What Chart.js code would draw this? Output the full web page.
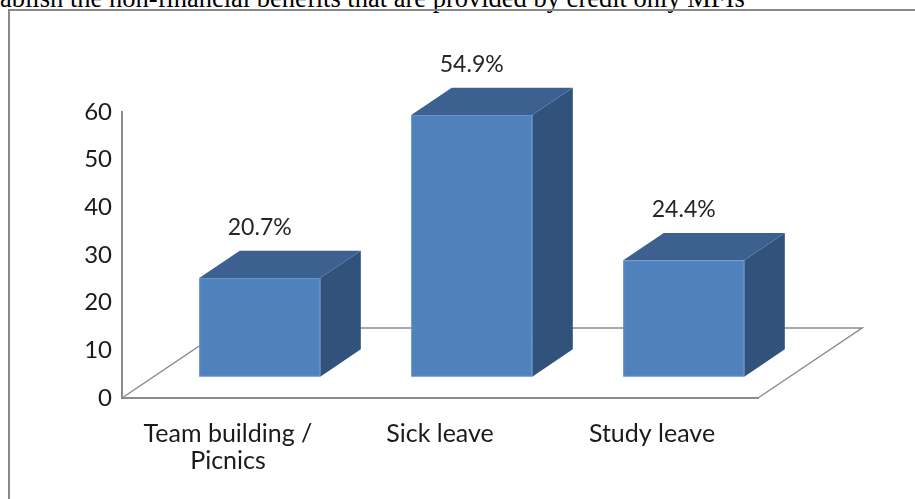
<!DOCTYPE html>
<html><head><meta charset="utf-8">
<script src="https://cdn.jsdelivr.net/npm/chart.js@4/dist/chart.umd.min.js"></script>
<style>
html,body{margin:0;padding:0;width:915px;height:499px;overflow:hidden;background:#fff;}
#caption{position:absolute;left:0;top:-15px;font-family:"Liberation Serif","DejaVu Serif",serif;font-size:26.5px;line-height:26.5px;white-space:nowrap;color:#000;}
#frame{position:absolute;left:8px;top:9px;width:1000px;height:600px;border-left:2px solid #898989;border-top:2px solid #898989;}
#wrap{position:absolute;left:0;top:0;width:915px;height:499px;}
</style></head><body>
<div id="caption">ablish the non-financial benefits that are provided by credit only MFIs</div>
<div id="frame"></div>
<div id="wrap"><canvas id="c" width="915" height="499"></canvas></div>
<script>
// ---- data ----
const categories = [['Team building /', 'Picnics'], 'Sick leave', 'Study leave'];
const values = [20.7, 54.9, 24.4];
const valueLabels = ['20.7%', '54.9%', '24.4%'];
const yMin = 0, yMax = 60, yStep = 10;

// ---- style ----
const FONT = 'Lato, "Open Sans", "Liberation Sans", sans-serif';
const FLOOR_DX = 104, FLOOR_DY = 70;      // 3D floor depth
const BAR_FRONT = 0.305, BAR_DEPTH = 0.39; // bar position within depth
const C_FRONT = '#4F81BD', C_TOP = '#3C6190', C_SIDE = '#30527B';
const C_LINE = '#8c8c8c';

const bars3d = {
  id: 'bars3d',
  beforeDatasetsDraw(chart) {
    const {ctx, chartArea: a} = chart;
    ctx.save();
    ctx.strokeStyle = C_LINE;
    ctx.lineWidth = 1.5;
    ctx.beginPath();
    ctx.moveTo(a.left, a.bottom);
    ctx.lineTo(a.left + FLOOR_DX, a.bottom - FLOOR_DY);
    ctx.lineTo(a.right + FLOOR_DX, a.bottom - FLOOR_DY);
    ctx.lineTo(a.right, a.bottom);
    ctx.stroke();
    ctx.restore();
  },
  afterDatasetsDraw(chart) {
    const {ctx} = chart;
    const meta = chart.getDatasetMeta(0);
    const ox = FLOOR_DX * BAR_FRONT, oy = FLOOR_DY * BAR_FRONT;
    const dx = FLOOR_DX * BAR_DEPTH, dy = FLOOR_DY * BAR_DEPTH;
    ctx.save();
    meta.data.forEach((el, i) => {
      const p = el.getProps(['x', 'y', 'base', 'width'], true);
      const l = p.x - p.width / 2 + ox, r = p.x + p.width / 2 + ox;
      const t = p.y - oy, b = p.base - oy;
      // side
      ctx.fillStyle = C_SIDE;
      ctx.beginPath();
      ctx.moveTo(r, t); ctx.lineTo(r + dx, t - dy); ctx.lineTo(r + dx, b - dy); ctx.lineTo(r, b);
      ctx.closePath(); ctx.fill();
      // top
      ctx.fillStyle = C_TOP;
      ctx.beginPath();
      ctx.moveTo(l, t); ctx.lineTo(l + dx, t - dy); ctx.lineTo(r + dx, t - dy); ctx.lineTo(r, t);
      ctx.closePath(); ctx.fill();
      // front
      ctx.fillStyle = C_FRONT;
      ctx.fillRect(l, t, r - l, b - t);
      ctx.strokeStyle = 'rgba(120,160,210,0.6)';
      ctx.lineWidth = 1;
      ctx.strokeRect(l + 0.5, t + 0.5, r - l - 1, b - t - 1);
      // label
      ctx.fillStyle = '#262626';
      ctx.font = '23px ' + FONT;
      ctx.textAlign = 'center';
      ctx.textBaseline = 'middle';
      ctx.fillText(valueLabels[i], (l + r) / 2, t - dy - 23);
    });
    ctx.restore();
  }
};

new Chart(document.getElementById('c'), {
  type: 'bar',
  data: {
    labels: categories,
    datasets: [{
      data: values,
      backgroundColor: 'rgba(0,0,0,0)',
      borderWidth: 0,
      barPercentage: 0.571,
      categoryPercentage: 1
    }]
  },
  options: {
    responsive: false,
    animation: false,
    devicePixelRatio: 1,
    layout: { padding: { left: 0, top: 112, right: 157, bottom: 0 } },
    plugins: { legend: { display: false }, tooltip: { enabled: false } },
    scales: {
      y: {
        min: yMin, max: yMax,
        ticks: { stepSize: yStep, color: '#1a1a1a', padding: 10, font: { family: FONT, size: 24 } },
        grid: { display: false, drawTicks: false },
        border: { display: true, color: C_LINE, width: 2 },
        afterFit(s) { s.width = 122; }
      },
      x: {
        ticks: { color: '#1a1a1a', padding: 22, maxRotation: 0, autoSkip: false, font: { family: FONT, size: 25, lineHeight: 1.1 } },
        grid: { display: false, drawTicks: false },
        border: { display: true, color: C_LINE, width: 2 },
        afterFit(s) { s.height = 101; }
      }
    }
  },
  plugins: [bars3d]
});
</script>
</body></html>
